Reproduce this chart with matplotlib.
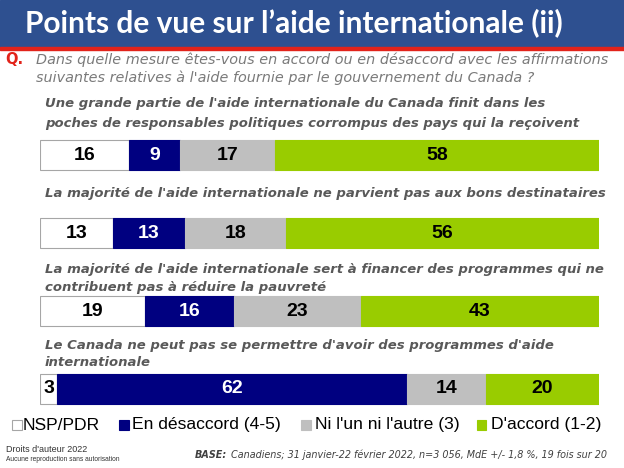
import matplotlib
matplotlib.use('Agg')
import matplotlib.pyplot as plt
from matplotlib.patches import Rectangle

W, H = 624, 468

title = "Points de vue sur l\u2019aide internationale (ii)"
question = ["Dans quelle mesure êtes-vous en accord ou en désaccord avec les affirmations",
            "suivantes relatives à l'aide fournie par le gouvernement du Canada ?"]

statements = [
    ["Une grande partie de l'aide internationale du Canada finit dans les",
     "poches de responsables politiques corrompus des pays qui la reçoivent"],
    ["La majorité de l'aide internationale ne parvient pas aux bons destinataires"],
    ["La majorité de l'aide internationale sert à financer des programmes qui ne",
     "contribuent pas à réduire la pauvreté"],
    ["Le Canada ne peut pas se permettre d'avoir des programmes d'aide",
     "internationale"],
]

categories = ["NSP/PDR", "En désaccord (4-5)", "Ni l'un ni l'autre (3)", "D'accord (1-2)"]
nsp = [16, 13, 19, 3]
desaccord = [9, 13, 16, 62]
ni = [17, 18, 23, 14]
accord = [58, 56, 43, 20]

colors = ['#FFFFFF', '#000080', '#BFBFBF', '#99CC00']
text_colors = ['black', 'white', 'black', 'black']

bar_y = [155, 233, 311, 388.5]
label_y = [[104, 124], [193], [269, 288], [346, 362]]


def fy(y):
    return 1 - y / H


fig = plt.figure(figsize=(W / 100, H / 100), dpi=100)

# title banner
fig.patches.append(Rectangle((0, fy(47)), 1, 47 / H, transform=fig.transFigure,
                             color='#2E5090', zorder=0))
fig.patches.append(Rectangle((0, fy(50)), 1, 3 / H, transform=fig.transFigure,
                             color='#E2231A', zorder=0))
fig.text(25 / W, fy(23), title, color='white', fontsize=21.5, fontweight='bold',
         family='Lato', va='center', ha='left')

# question
fig.text(5 / W, fy(60), 'Q.', color='#E2231A', fontsize=10.5, fontweight='bold',
         family='DejaVu Sans', va='center')
for i, line in enumerate(question):
    fig.text(36 / W, fy(60 + i * 18), line, color='#7A7A7A', fontsize=10.4,
             style='italic', family='DejaVu Sans', va='center')

# statements
for lines, ys in zip(statements, label_y):
    for line, y in zip(lines, ys):
        fig.text(45 / W, fy(y), line, color='#595959', fontsize=9.5,
                 style='italic', fontweight='bold', family='DejaVu Sans', va='center')

# bars
ax = fig.add_axes([40 / W, fy(410), (599 - 40) / W, 280 / H])
ax.set_xlim(0, 100)
ax.set_ylim(410, 130)
ax.axis('off')

series = [nsp, desaccord, ni, accord]
totals = [sum(s[i] for s in series) for i in range(len(nsp))]
left = [0] * len(nsp)
for k, vals in enumerate(series):
    widths = [v / t * 100 for v, t in zip(vals, totals)]
    ax.barh(bar_y, widths, left=left, height=30, color=colors[k],
            edgecolor='#A6A6A6' if k == 0 else colors[k], linewidth=0.8)
    for y, l, w, v in zip(bar_y, left, widths, vals):
        ax.text(l + w / 2, y, str(v), ha='center', va='center', color=text_colors[k],
                fontsize=14, fontweight='bold', family='Liberation Sans')
    left = [a + b for a, b in zip(left, widths)]

# legend
sq_x = [12, 119, 301, 477]
txt_x = [23, 132, 315, 491]
for sx, tx, c, name in zip(sq_x, txt_x, colors, categories):
    fig.patches.append(Rectangle((sx / W, fy(429.5)), 9.5 / W, 9.5 / H, transform=fig.transFigure,
                                 facecolor=c, edgecolor='#A6A6A6' if c == '#FFFFFF' else c,
                                 linewidth=0.8))
    fig.text(tx / W, fy(425), name, fontsize=12.6, family='Liberation Sans',
             va='center', color='black')

# footer
fig.text(6 / W, fy(449), "Droits d'auteur 2022", fontsize=6.5, family='Liberation Sans',
         va='center', color='#333333')
fig.text(6 / W, fy(459.5), "Aucune reproduction sans autorisation", fontsize=4.8,
         family='Liberation Sans', va='center', color='#333333')
base = fig.text(607 / W, fy(455),
                "Canadiens; 31 janvier-22 février 2022, n=3 056, MdE +/- 1,8 %, 19 fois sur 20",
                fontsize=6.9, family='DejaVu Sans', style='italic', ha='right', va='center',
                color='#404040')
bb = base.get_window_extent(renderer=fig.canvas.get_renderer())
fig.text((bb.x0 - 4) / W, fy(455), "BASE:", fontsize=6.9, family='DejaVu Sans',
         style='italic', fontweight='bold', ha='right', va='center', color='#404040')

fig.savefig('out.png', dpi=100)
